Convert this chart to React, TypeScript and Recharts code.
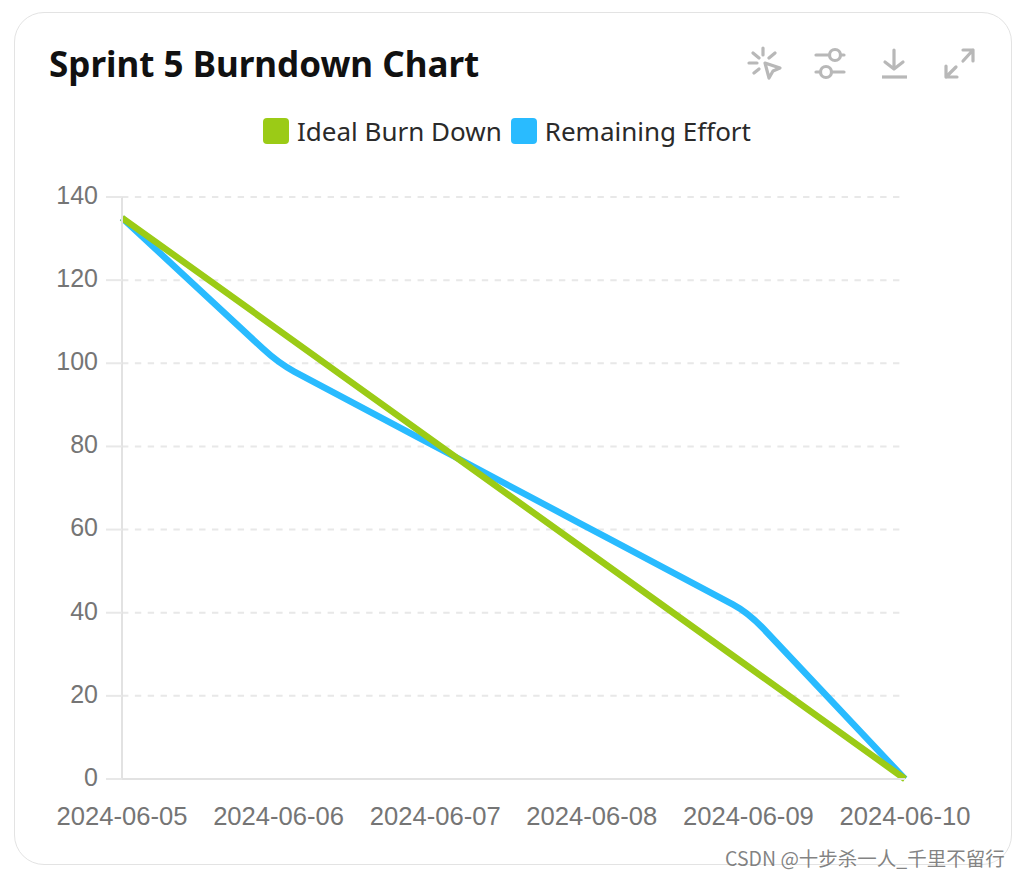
import { LineChart, Line, XAxis, YAxis, CartesianGrid, Legend } from 'recharts';

const dates = ['2024-06-05', '2024-06-06', '2024-06-07', '2024-06-08', '2024-06-09', '2024-06-10'];
const idealBurnDown = [135, 108, 81, 54, 27, 0];
const remainingEffort = [135, 100, 80, 60, 40, 0];
const yTicks = [0, 20, 40, 60, 80, 100, 120, 140];

const data = dates.map((date, i) => ({
  date,
  ideal: idealBurnDown[i],
  remaining: remainingEffort[i],
}));

const legendFont = '"Noto Sans", sans-serif';
const axisFont = '"Liberation Sans", Arial, sans-serif';
const iconColor = '#b8b8b8';

// straight segments with a small round corner at each point, like a low smooth value
function softCorners(context: any) {
  let pts: [number, number][] = [];
  const cut = 0.1;
  return {
    areaStart() {},
    areaEnd() {},
    lineStart() {
      pts = [];
    },
    lineEnd() {
      pts.forEach(([x, y], i) => {
        if (i === 0) {
          context.moveTo(x, y);
        } else if (i === pts.length - 1) {
          context.lineTo(x, y);
        } else {
          const [px, py] = pts[i - 1];
          const [nx, ny] = pts[i + 1];
          context.lineTo(x + (px - x) * cut, y + (py - y) * cut);
          context.quadraticCurveTo(x, y, x + (nx - x) * cut, y + (ny - y) * cut);
        }
      });
    },
    point(x: number, y: number) {
      pts.push([+x, +y]);
    },
  };
}

function ChartLegend({ payload }: any) {
  return (
    <div style={{ display: 'flex', justifyContent: 'center', gap: 9, fontFamily: legendFont, fontSize: 26, color: '#2a2a2a' }}>
      {(payload || []).map((item: any) => (
        <div key={item.value} style={{ display: 'flex', alignItems: 'center', gap: 8 }}>
          <span style={{ width: 26, height: 26, borderRadius: 4, background: item.color, display: 'inline-block' }} />
          <span>{item.value}</span>
        </div>
      ))}
    </div>
  );
}

function ToolbarIcons() {
  const common = { fill: 'none', stroke: iconColor, strokeWidth: 3.2, strokeLinecap: 'round' as const, strokeLinejoin: 'round' as const };
  return (
    <svg width={240} height={44} style={{ position: 'absolute', left: 742, top: 42 }} {...common}>
      <path d="M7 21H15M21 6V13M11 11L17 16M33 11L27 16M12 31L17 27" />
      <path d="M23 21L38 26L31 29L27 36Z" />
      <path d="M74 13H87M99 13H102M74 30H78M90 30H102" />
      <circle cx={93} cy={13} r={5.5} />
      <circle cx={84} cy={30} r={5.5} />
      <path d="M152 8V26M143 20L152 27L161 20" />
      <path d="M140 35H165" strokeLinecap="butt" />
      <path d="M221 8H231V19M231 8L221 19M204 24V35H215M204 35L214 25" />
    </svg>
  );
}

export default function App() {
  return (
    <div style={{ position: 'absolute', left: 0, top: 0, width: 1021, height: 878, background: '#fff', overflow: 'hidden' }}>
      <div
        style={{
          position: 'absolute',
          left: 14,
          top: 12,
          width: 998,
          height: 853,
          boxSizing: 'border-box',
          border: '1px solid #e3e3e3',
          borderRadius: 30,
        }}
      />
      <div
        style={{
          position: 'absolute',
          left: 49,
          top: 40,
          fontFamily: legendFont,
          fontWeight: 700,
          fontSize: 35,
          lineHeight: '48px',
          color: '#111',
        }}
      >
        Sprint 5 Burndown Chart
      </div>
      <ToolbarIcons />
      <div style={{ position: 'absolute', left: 0, top: 0 }}>
        <LineChart width={1021} height={878} data={data} margin={{ top: 161, right: 116, bottom: 0, left: 0 }}>
          <CartesianGrid horizontal vertical={false} stroke="#e8e8e8" strokeWidth={2} strokeDasharray="6.4 6.45" />
          <XAxis
            dataKey="date"
            interval={0}
            height={99}
            padding={{ left: 0, right: 0 }}
            axisLine={{ stroke: '#e2e2e2', strokeWidth: 2 }}
            tickLine={false}
            tickMargin={22}
            tick={{ fill: '#757575', fontSize: 25.6, fontFamily: axisFont }}
          />
          <YAxis
            width={122}
            domain={[0, 140]}
            ticks={yTicks}
            interval={0}
            axisLine={{ stroke: '#e2e2e2', strokeWidth: 2 }}
            tickLine={{ stroke: '#e8e8e8', strokeWidth: 2 }}
            tickSize={16}
            tickMargin={8}
            tick={{ fill: '#757575', fontSize: 25, fontFamily: axisFont, dy: -2 }}
          />
          <Legend
            verticalAlign="top"
            content={<ChartLegend />}
            wrapperStyle={{ position: 'absolute', top: 113, left: 0, width: 1014 }}
          />
          <Line
            type={softCorners as any}
            dataKey="remaining"
            name="Remaining Effort"
            stroke="#29bbff"
            strokeWidth={6.5}
            dot={false}
            isAnimationActive={false}
          />
          <Line
            type="linear"
            dataKey="ideal"
            name="Ideal Burn Down"
            stroke="#9bcb16"
            strokeWidth={6.5}
            dot={false}
            isAnimationActive={false}
          />
        </LineChart>
      </div>
      <div
        style={{
          position: 'absolute',
          left: 725,
          top: 845,
          fontFamily: '"Noto Sans CJK SC", "Liberation Sans", sans-serif',
          fontSize: 19.5,
          lineHeight: '26px',
          color: 'rgba(90,90,90,0.75)',
          whiteSpace: 'nowrap',
        }}
      >
        CSDN @十步杀一人_千里不留行
      </div>
    </div>
  );
}
